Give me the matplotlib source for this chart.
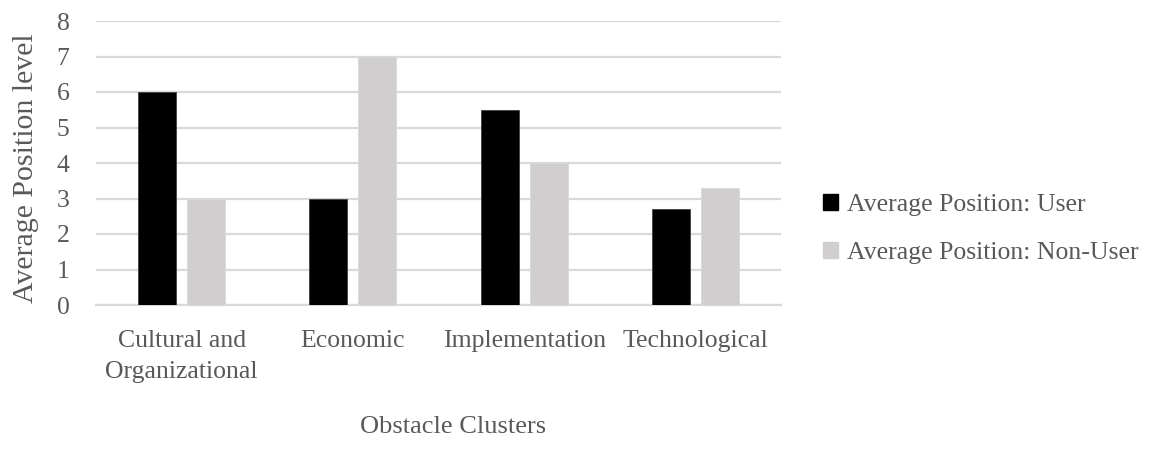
import numpy as np
import matplotlib.pyplot as plt
from matplotlib.patches import Patch

categories = ["Cultural and\nOrganizational", "Economic", "Implementation", "Technological"]
user_values = [6.0, 3.0, 5.5, 2.7]
non_user_values = [3.0, 7.0, 4.0, 3.3]
series_names = ["Average Position: User", "Average Position: Non-User"]
y_ticks = [0, 1, 2, 3, 4, 5, 6, 7, 8]

text_color = "#595959"
grid_color = "#d9d9d9"
user_color = "#000000"
non_user_color = "#d0cecf"

plt.rcParams["font.family"] = ["Liberation Serif", "DejaVu Serif"]

W, H = 1154, 454
fig = plt.figure(figsize=(W / 100, H / 100), dpi=100)
ax = fig.add_axes([96 / W, 1 - 305 / H, (781 - 96) / W, (305 - 21) / H])

x = np.arange(len(categories))
width = 0.222
offset = 0.143
ax.bar(x - offset, user_values, width, color=user_color, edgecolor="#404040", linewidth=0.6, zorder=3)
ax.bar(x + offset, non_user_values, width, color=non_user_color, edgecolor="#d8d8d8", linewidth=0.6, zorder=3)

ax.set_xlim(-0.5, len(categories) - 0.5)
ax.set_ylim(0, 8)
ax.set_yticks(y_ticks)
ax.yaxis.grid(True, color=grid_color, linewidth=1.6, zorder=0)
ax.set_axisbelow(True)
for side in ["top", "right", "left"]:
    ax.spines[side].set_visible(False)
ax.spines["bottom"].set_color(grid_color)
ax.spines["bottom"].set_linewidth(1.6)
ax.tick_params(axis="both", length=0, labelsize=18.5, labelcolor=text_color)
ax.tick_params(axis="y", pad=19)
ax.tick_params(axis="x", pad=18)
ax.set_xticks(x)
ax.set_xticklabels(categories, linespacing=1.55)

fig.text(26 / W, 1 - 168 / H, "Average Position level", rotation=90, ha="center", va="center",
         fontsize=21.5, color=text_color)
fig.text(453 / W, 1 - 427 / H, "Obstacle Clusters", ha="center", va="center",
         fontsize=19, color=text_color)

handles = [Patch(facecolor=user_color, edgecolor=user_color),
           Patch(facecolor=non_user_color, edgecolor=non_user_color)]
fig.legend(handles, series_names, loc="center left", bbox_to_anchor=(800 / W, 1 - 229 / H),
           frameon=False, fontsize=18.5, handlelength=0.58, handleheight=0.58, handletextpad=0.35,
           labelspacing=1.0, labelcolor=text_color)

fig.savefig("out.png", dpi=100)
